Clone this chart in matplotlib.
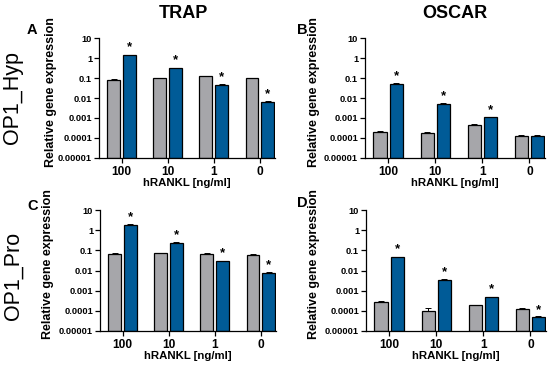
import matplotlib
matplotlib.use("Agg")
import matplotlib.pyplot as plt
import numpy as np

plt.rcParams['font.family'] = ['Liberation Sans', 'DejaVu Sans']
plt.rcParams['font.weight'] = 'bold'

categories = ["100", "10", "1", "0"]

# Panel A: OP1_Hyp TRAP
a_ctrl = [0.083, 0.10, 0.12, 0.096]
a_ctrl_err = [0.005, 0.004, 0.012, 0.004]
a_treat = [1.36, 0.30, 0.045, 0.0062]
a_treat_err = [0.10, 0.02, 0.003, 0.0006]
a_sig = [True, True, True, True]

# Panel B: OP1_Hyp OSCAR
b_ctrl = [0.00019, 0.00016, 0.00046, 0.00012]
b_ctrl_err = [0.00003, 0.00002, 0.00005, 0.00001]
b_treat = [0.052, 0.0050, 0.00105, 0.000115]
b_treat_err = [0.002, 0.0003, 0.00006, 0.00001]
b_sig = [True, True, True, False]

# Panel C: OP1_Pro TRAP
c_ctrl = [0.069, 0.071, 0.064, 0.062]
c_ctrl_err = [0.003, 0.003, 0.006, 0.003]
c_treat = [1.9, 0.24, 0.029, 0.0076]
c_treat_err = [0.08, 0.015, 0.002, 0.0004]
c_sig = [True, True, True, True]

# Panel D: OP1_Pro OSCAR
d_ctrl = [0.00028, 0.000092, 0.000185, 0.000108]
d_ctrl_err = [0.00002, 0.00003, 0.00001, 0.00002]
d_treat = [0.047, 0.0035, 0.00046, 0.00004]
d_treat_err = [0.002, 0.0002, 0.00003, 0.000005]
d_sig = [True, True, True, True]

yticks = [1e-5, 1e-4, 1e-3, 1e-2, 1e-1, 1, 10]
ytick_labels = ["0.00001", "0.0001", "0.001", "0.01", "0.1", "1", "10"]

col_titles = ["TRAP", "OSCAR"]
row_titles = ["OP1_Hyp", "OP1_Pro"]
panel_letters = ["A", "B", "C", "D"]
xlabel = "hRANKL [ng/ml]"
ylabel = "Relative gene expression"

gray = "#a6a6aa"
blue = "#005b97"

fig = plt.figure(figsize=(5.5, 3.67), dpi=100)

W, H = 550.0, 367.0
boxes = [
    (99, 38, 275, 158),
    (365, 38, 545, 158),
    (100, 210, 276, 331),
    (366, 210, 546, 331),
]
letter_pos = [(32, 30), (302, 30), (33, 206), (302, 203)]
ylabel_x = [51, 314, 48, 314]
panels = [
    (a_ctrl, a_ctrl_err, a_treat, a_treat_err, a_sig),
    (b_ctrl, b_ctrl_err, b_treat, b_treat_err, b_sig),
    (c_ctrl, c_ctrl_err, c_treat, c_treat_err, c_sig),
    (d_ctrl, d_ctrl_err, d_treat, d_treat_err, d_sig),
]

x = np.arange(len(categories))
bw = 0.28
off = 0.17

for i, (box, data) in enumerate(zip(boxes, panels)):
    l, t, r, b = box
    ax = fig.add_axes([l / W, 1 - b / H, (r - l) / W, (b - t) / H])
    ctrl, ctrl_err, treat, treat_err, sig = data
    ekw = dict(ecolor="black", elinewidth=0.7, capsize=2, capthick=0.7)
    ax.bar(x - off, ctrl, bw, bottom=1e-5, color=gray, edgecolor="black", linewidth=0.9,
           yerr=[np.zeros(len(ctrl)), ctrl_err], error_kw=ekw)
    ax.bar(x + off, treat, bw, bottom=1e-5, color=blue, edgecolor="black", linewidth=0.9,
           yerr=[np.zeros(len(treat)), treat_err], error_kw=ekw)
    ax.set_yscale("log")
    ax.set_ylim(1e-5, 10)
    ax.set_xlim(-0.49, 3.33)
    ax.set_yticks(yticks)
    ax.set_yticklabels(ytick_labels)
    ax.minorticks_off()
    ax.set_xticks(x)
    ax.set_xticklabels(categories, fontsize=8.6, fontweight="bold")
    for lab in ax.get_yticklabels():
        lab.set_fontsize(6.7)
        lab.set_fontweight("bold")
    ax.tick_params(axis="both", direction="out", length=3.5, width=0.9, pad=1.5)
    ax.tick_params(axis="x", pad=2)
    for s in ["top", "right"]:
        ax.spines[s].set_visible(False)
    for s in ["left", "bottom"]:
        ax.spines[s].set_linewidth(0.9)
    for j, sg in enumerate(sig):
        if sg:
            ax.annotate("*", (x[j] + off, treat[j] + treat_err[j]), xytext=(0, 1),
                        textcoords="offset points", ha="center", va="bottom",
                        fontsize=9.5, fontweight="bold")
    ax.set_xlabel(xlabel, fontsize=8.2, fontweight="bold", labelpad=0.5)
    ax.set_ylabel(ylabel, fontsize=9, fontweight="bold", va="center")
    ax.yaxis.set_label_coords((ylabel_x[i] - l) / (r - l), 0.55)
    lx, ly = letter_pos[i]
    fig.text(lx / W, 1 - ly / H, panel_letters[i], fontsize=10.5, fontweight="bold",
             ha="center", va="center")

fig.text(183 / W, 1 - 14 / H, col_titles[0], fontsize=13, fontweight="bold", ha="center", va="center")
fig.text(455 / W, 1 - 14 / H, col_titles[1], fontsize=13, fontweight="bold", ha="center", va="center")
fig.text(13 / W, 1 - 98 / H, row_titles[0], fontsize=15.5, fontweight="normal",
         rotation=90, ha="center", va="center")
fig.text(13 / W, 1 - 276 / H, row_titles[1], fontsize=15.5, fontweight="normal",
         rotation=90, ha="center", va="center")

fig.savefig("out.png", dpi=100)
